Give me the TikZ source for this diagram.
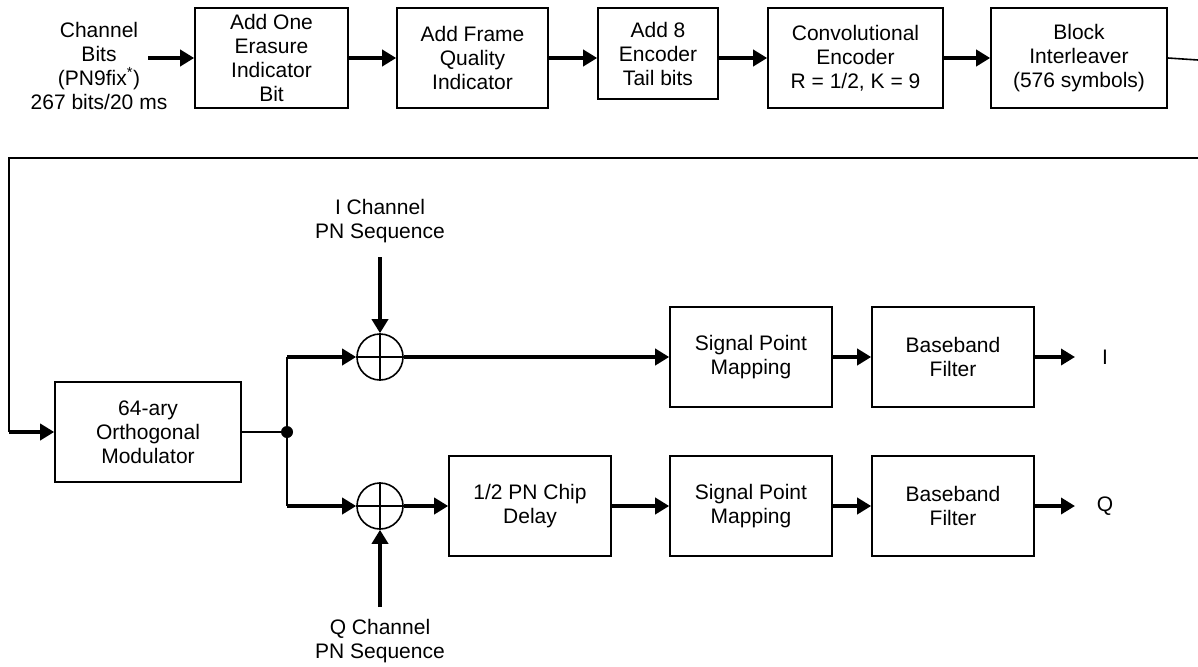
\documentclass[tikz,border=0pt]{standalone}
\usepackage{fontspec}
\setmainfont{Liberation Sans}
\usetikzlibrary{arrows.meta}
\begin{document}
\begin{tikzpicture}[x=1pt,y=-1pt,
  every node/.style={font=\fontsize{21}{24}\selectfont, align=center, inner sep=0pt},
  blk/.style={draw, line width=1.6pt, minimum height=100pt},
  thin/.style={line width=1.6pt},
  arr/.style={line width=3.5pt, -{Triangle[length=14pt,width=16pt]}},
  adder/.style={draw, circle, line width=1.6pt, minimum size=46pt}]
\useasboundingbox (0,0) rectangle (1198,666);
% top row
\node (in) at (99,66) {Channel\\Bits\\(PN9fix\textsuperscript{*})\\267 bits/20 ms};
\coordinate (inS) at (148,58);
\node[blk, minimum width=153pt] (b1) at (271.5,58) {Add One\\Erasure\\Indicator\\Bit};
\node[blk, minimum width=151pt] (b2) at (472.5,58) {Add Frame\\Quality\\Indicator};
\node[blk, minimum width=120pt, minimum height=91pt] (b3) at (658,53.5) {Add 8\\Encoder\\Tail bits};
\node[blk, minimum width=175pt] (b4) at (855.5,58) {Convolutional\\Encoder\\R = 1/2, K = 9};
\node[blk, minimum width=176pt] (b5) at (1079,58) {Block\\Interleaver\\(576 symbols)};
\draw[arr] (inS) -- (b1.west |- inS);
\draw[arr] (b1.east |- inS) -- (b2.west |- inS);
\draw[arr] (b2.east |- inS) -- (b3.west |- inS);
\draw[arr] (b3.east |- inS) -- (b4.west |- inS);
\draw[arr] (b4.east |- inS) -- (b5.west |- inS);
\coordinate (r1) at (1198,60);
\coordinate (r2) at (1198,158);
\coordinate (c1) at (9,158);
\coordinate (c2) at (9,432);
\draw[thin] (b5.east) -- (r1);
\draw[thin] (r2) -- (c1) -- (c2);
% lower part
\node[blk, minimum width=186pt] (mod) at (148,432) {64-ary\\Orthogonal\\Modulator};
\draw[arr] (c2) -- (mod.west);
\coordinate (j) at (287,432);
\coordinate (ju) at (287,357);
\coordinate (jd) at (287,506);
\draw[thin] (mod.east) -- (j);
\draw[thin] (ju) -- (jd);
\fill (j) circle (6pt);
\node[adder] (a1) at (380,357) {};
\node[adder] (a2) at (380,506) {};
\draw[thin] (a1.north) -- (a1.south) (a1.west) -- (a1.east);
\draw[thin] (a2.north) -- (a2.south) (a2.west) -- (a2.east);
\draw[arr] (ju) -- (a1.west);
\draw[arr] (jd) -- (a2.west);
\node (ipn) at (380,221) {I Channel\\PN Sequence};
\node (qpn) at (380,641) {Q Channel\\PN Sequence};
\coordinate (ipnS) at (380,257);
\coordinate (qpnS) at (380,607);
\draw[arr] (ipnS) -- (a1.north);
\draw[arr] (qpnS) -- (a2.south);
\node[blk, minimum width=162pt] (spm1) at (751,357) {Signal Point\\Mapping};
\node[blk, minimum width=162pt] (bbf1) at (953,357) {Baseband\\Filter};
\node[blk, minimum width=162pt] (dly) at (530,506) {1/2 PN Chip\\Delay};
\node[blk, minimum width=162pt] (spm2) at (751,506) {Signal Point\\Mapping};
\node[blk, minimum width=162pt] (bbf2) at (953,506) {Baseband\\Filter};
\draw[arr] (a1.east) -- (spm1.west);
\draw[arr] (spm1.east) -- (bbf1.west);
\draw[arr] (a2.east) -- (dly.west);
\draw[arr] (dly.east) -- (spm2.west);
\draw[arr] (spm2.east) -- (bbf2.west);
\coordinate (oi) at (1075,357);
\coordinate (oq) at (1075,506);
\draw[arr] (bbf1.east) -- (oi);
\draw[arr] (bbf2.east) -- (oq);
\node (li) at (1105,357) {I};
\node (lq) at (1105,506) {Q};
\end{tikzpicture}
\end{document}
